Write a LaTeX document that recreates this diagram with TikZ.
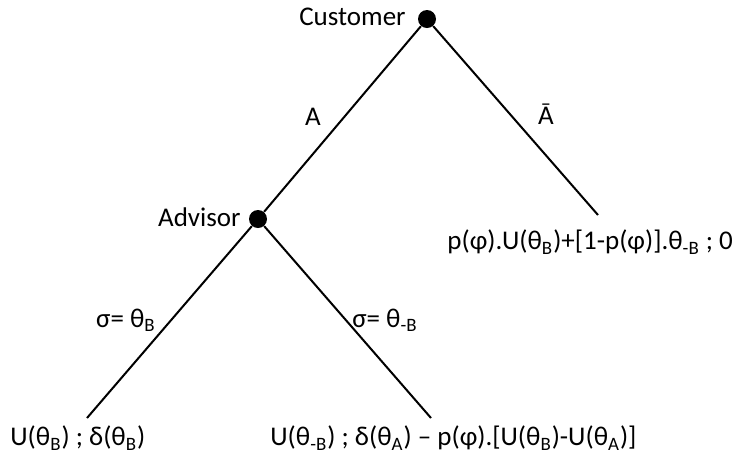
\documentclass[tikz,border=0pt]{standalone}
\usepackage{fontspec}
\setmainfont{Carlito}
\usetikzlibrary{positioning}

\begin{document}
\begin{tikzpicture}[x=0.5pt, y=-0.5pt]
            \tikzstyle{player} = [circle, fill=black, inner sep=0pt, minimum size=9pt]
            \tikzstyle{move} = [line width=1pt, color=black]
            \tikzstyle{lbl} = [inner sep=0pt, font=\fontsize{13.5}{16}\selectfont]
            \useasboundingbox (0, 0) rectangle (735, 457);
            \node[player] (cust) at (427, 19) {};
            \node[player] (adv) at (258, 219) {};
            \coordinate (endNotA) at (598, 215);
            \coordinate (endB) at (87, 418);
            \coordinate (endNotB) at (431, 418);
            \draw[move] (cust) -- (adv);
            \draw[move] (cust) -- (endNotA);
            \draw[move] (adv) -- (endB);
            \draw[move] (adv) -- (endNotB);

            \node[lbl, anchor=east] (custname) at (406, 17) {Customer};
            \node[lbl, anchor=east] (advname) at (241, 217) {Advisor};
            \node[lbl] (actA) at (313, 117) {A};
            \node[lbl] (actNotA) at (546, 114) {Ā};
            \node[lbl] (sigB) at (126, 320) {σ= θ\textsubscript{B}};
            \node[lbl] (sigNotB) at (385, 320) {σ= θ\textsubscript{-B}};
            \node[lbl, anchor=west] (payNotA) at (447, 242) {p(φ).U(θ\textsubscript{B})+[1-p(φ)].θ\textsubscript{-B} ; 0};
            \node[lbl, anchor=west] (payB) at (10, 438) {U(θ\textsubscript{B}) ; δ(θ\textsubscript{B})};
            \node[lbl, anchor=west] (payNotB) at (270, 438) {U(θ\textsubscript{-B}) ; δ(θ\textsubscript{A}) – p(φ).[U(θ\textsubscript{B})-U(θ\textsubscript{A})]};
        \end{tikzpicture}
\end{document}
